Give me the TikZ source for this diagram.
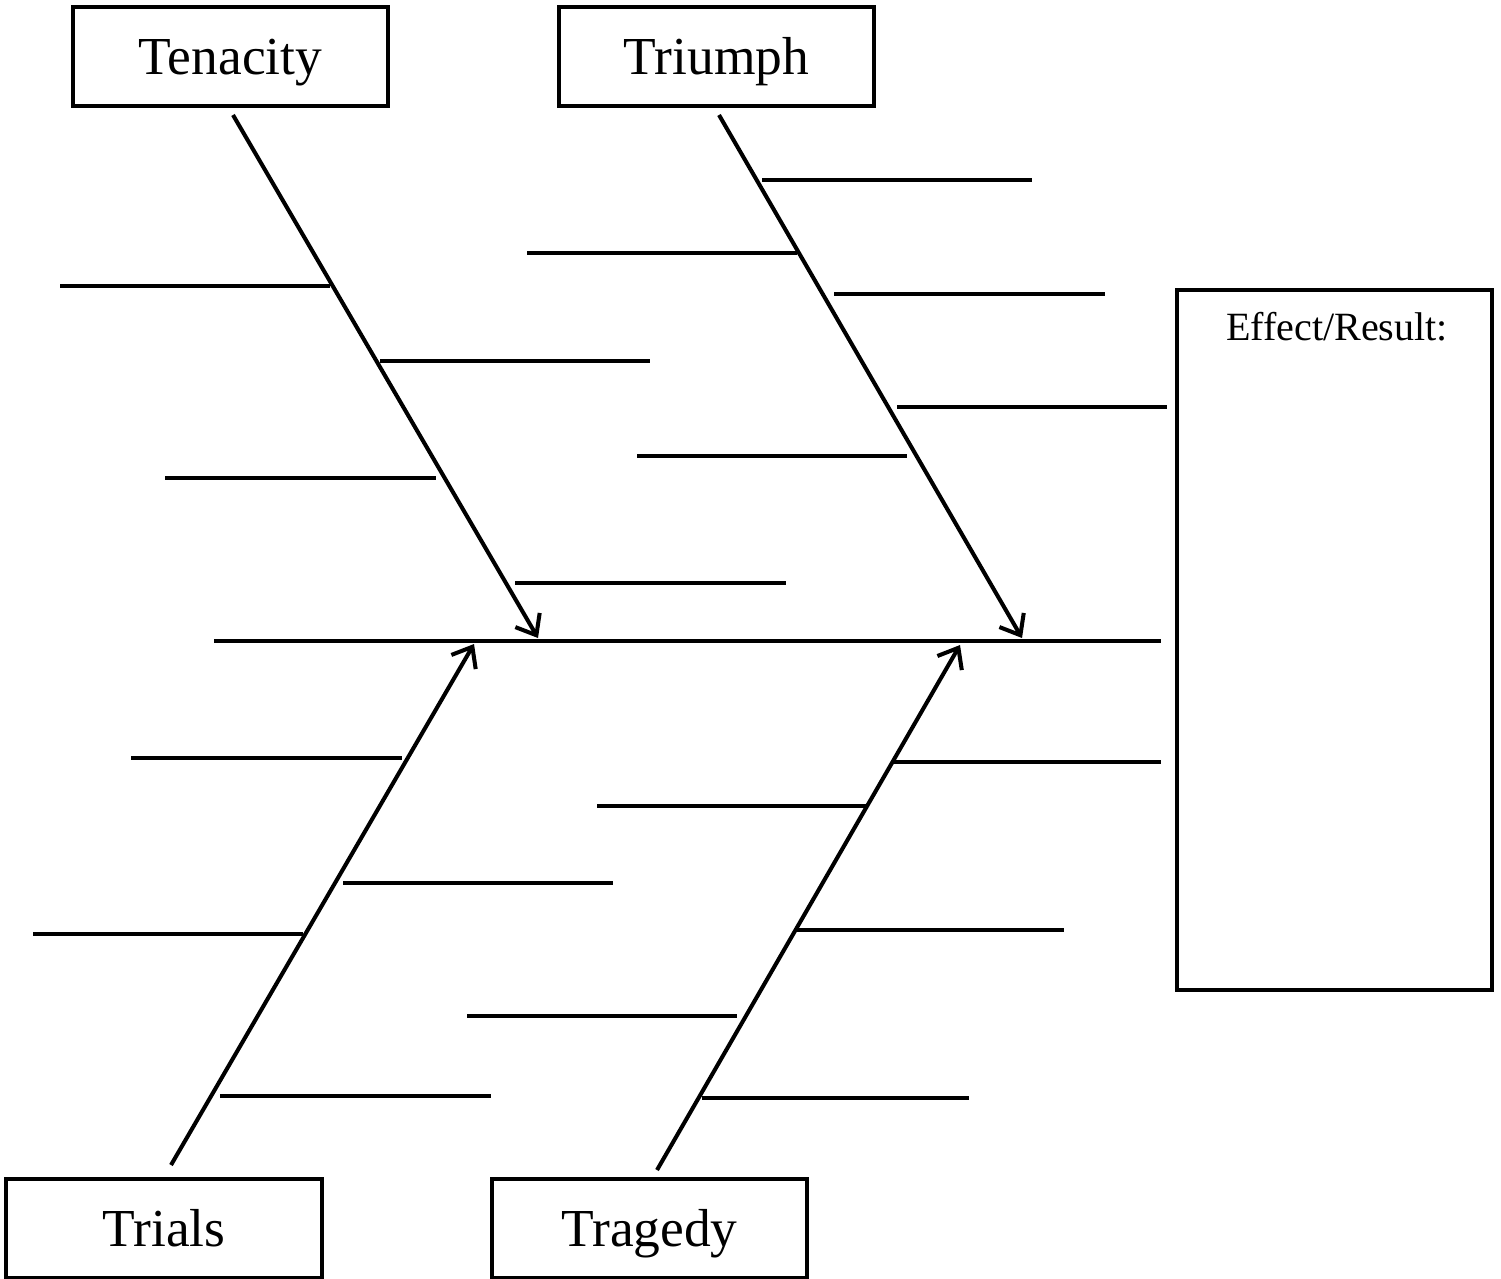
\documentclass[tikz,border=0pt]{standalone}
\usepackage{fontspec}
\setmainfont{Liberation Serif}
\usetikzlibrary{arrows.meta}

\begin{document}
\begin{tikzpicture}[x=0.01cm, y=-0.01cm, line width=1.15pt,
    box/.style={draw, line width=1.15pt, inner sep=0pt, minimum width=3.15cm, minimum height=0.99cm, text height=10.5pt, text depth=0pt, font=\fontsize{15.2}{18}\selectfont},
    bone/.style={-{Straight Barb[length=5pt,width=8pt]}}]
    \useasboundingbox (0,0) rectangle (1501,1278);
    \node[box] (a) at (230.5, 56.5) {Tenacity};
    \node[box] (b) at (716.5, 56.5) {Triumph};
    \node[box] (c) at (164, 1228.5) {Trials};
    \node[box] (d) at (649.5, 1228.5) {Tragedy};
    \node[draw, line width=1.25pt, minimum width=3.15cm, minimum height=7cm] (e) at (1334.5, 640) {};
    \node[font=\fontsize{11.4}{14}\selectfont] (f) at (1337, 327) {Effect/Result:};
    \coordinate (a1) at (233, 115);
    \coordinate (a2) at (538, 638);
    \coordinate (b1) at (719, 115);
    \coordinate (b2) at (1022, 638);
    \coordinate (c1) at (171, 1165);
    \coordinate (c2) at (474, 644);
    \coordinate (d1) at (657, 1170);
    \coordinate (d2) at (960, 645);
    \coordinate (s1) at (214, 641);
    \coordinate (s2) at (1161, 641);
    \draw (s1) to (s2);
    \draw [bone] (a1) to (a2);
    \draw [bone] (b1) to (b2);
    \draw [bone] (c1) to (c2);
    \draw [bone] (d1) to (d2);
    \foreach \xa/\xb/\y in {60/330/286, 380/650/361, 165/436/478, 515/786/583,
        762/1032/180, 527/797/253, 834/1105/294, 897/1167/407, 637/907/456,
        131/402/758, 343/613/883, 33/303/934, 220/491/1096,
        891/1161/762, 597/867/806, 794/1064/930, 467/737/1016, 702/969/1098}
        \draw (\xa, \y) -- (\xb, \y);
\end{tikzpicture}
\end{document}
